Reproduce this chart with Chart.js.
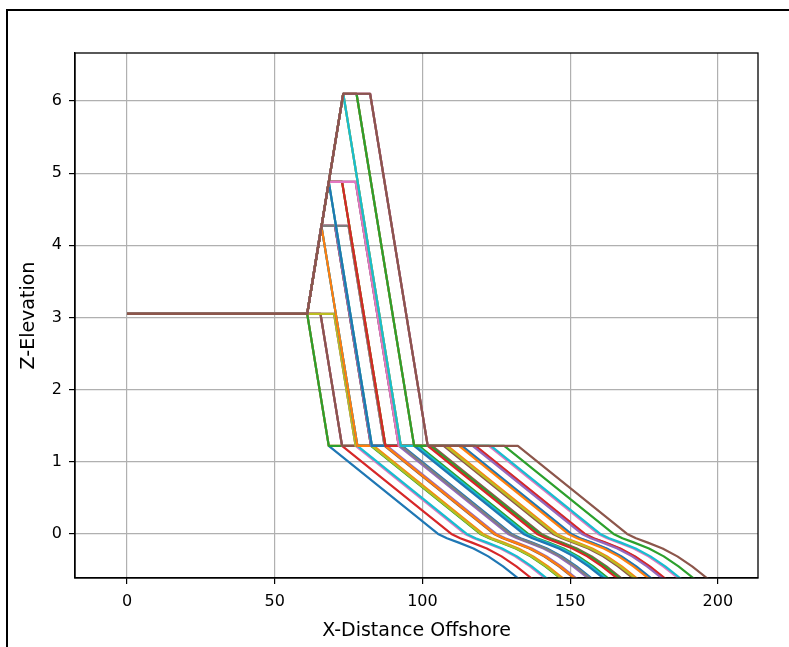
<!DOCTYPE html>
<html>
<head>
<meta charset="utf-8">
<script src="https://cdn.jsdelivr.net/npm/chart.js@4.4.1/dist/chart.umd.min.js"></script>
<style>
  html, body { margin: 0; padding: 0; background: #fff; }
  #wrap { position: relative; width: 789px; height: 647px; }
</style>
</head>
<body>
<div id="wrap"><canvas id="grafico" width="789" height="647"></canvas></div>
<script>
// EJES
const xTicks = [0, 50, 100, 150, 200];
const yTicks = [0, 1, 2, 3, 4, 5, 6];
const tab10 = ['#1f77b4', '#ff7f0e', '#2ca02c', '#d62728', '#9467bd',
               '#8c564b', '#e377c2', '#7f7f7f', '#bcbd22', '#17becf'];

// PERFILES: respaldo, duna, berma, playa
const backshoreX = [0, 61.0];
const backshoreZ = 3.05;
const crestZ = [3.05, 4.27, 4.88, 6.10];          // altura de duna
const crestStartX = [61.0, 65.8, 68.3, 73.2];     // inicio de cresta
const crestEndX = [                               // fin de cresta (3 anchos)
  [61.0, 65.5, 70.1],
  [65.8, 70.4, 75.0],
  [68.3, 72.8, 77.4],
  [73.2, 77.7, 82.3]
];
const toeX = [                                    // pie de duna en la berma
  [68.3, 72.8, 77.4],
  [78.0, 82.6, 87.2],
  [82.9, 87.5, 92.0],
  [92.7, 97.2, 101.8]
];
const bermZ = 1.22;
const bermWidths = [0, 15.2, 30.5];
// forma de la playa desde el borde de la berma
const shoreDx = [0, 37, 40, 44, 49, 54, 59, 64, 80];
const shoreZ = [1.22, 0.0, -0.06, -0.12, -0.2, -0.31, -0.45, -0.61, -1.05];

// ARMAR DATASETS
const perfiles = [];
crestZ.forEach((z, h) => {
  crestEndX[h].forEach((xc, c) => {
    bermWidths.forEach(bw => {
      const bermEnd = toeX[h][c] + bw;
      const pts = [
        { x: backshoreX[0], y: backshoreZ },
        { x: backshoreX[1], y: backshoreZ },
        { x: crestStartX[h], y: z },
        { x: xc, y: z },
        { x: toeX[h][c], y: bermZ },
        { x: bermEnd, y: bermZ }
      ];
      shoreDx.forEach((dx, k) => { if (k > 0) pts.push({ x: bermEnd + dx, y: shoreZ[k] }); });
      perfiles.push(pts);
    });
  });
});

const datasets = perfiles.map((pts, i) => ({
  data: pts,
  borderColor: tab10[i % 10],
  borderWidth: 2.2,
  borderJoinStyle: 'round',
  pointRadius: 0,
  showLine: true,
  fill: false,
  tension: 0,
  order: perfiles.length - i
}));

// MARCOS
const marco = {
  id: 'marco',
  afterDraw(chart) {
    const { ctx, chartArea: a } = chart;
    ctx.save();
    ctx.strokeStyle = '#000';
    ctx.lineWidth = 1.3;
    ctx.strokeRect(a.left, a.top, a.right - a.left, a.bottom - a.top);
    ctx.lineWidth = 2;
    ctx.strokeRect(7, 10, 900, 900);
    ctx.restore();
  }
};

Chart.defaults.font.family = 'DejaVu Sans';
Chart.defaults.color = '#000';

new Chart(document.getElementById('grafico'), {
  type: 'scatter',
  data: { datasets },
  options: {
    responsive: false,
    animation: false,
    devicePixelRatio: 1,
    layout: { padding: { left: 14, top: 53, right: 31, bottom: 0 } },
    plugins: { legend: { display: false }, tooltip: { enabled: false } },
    scales: {
      x: {
        type: 'linear',
        min: -17.6,
        max: 213.6,
        afterBuildTicks: axis => { axis.ticks = xTicks.map(v => ({ value: v })); },
        afterFit: axis => { axis.height = 69; },
        ticks: { padding: 8, font: { size: 16 }, color: '#000' },
        grid: { color: '#b0b0b0', lineWidth: 1.2, tickColor: '#000', tickLength: 6 },
        border: { display: true, color: '#000', width: 1.3 },
        title: { display: true, text: 'X-Distance Offshore', font: { size: 19 }, padding: { top: 0, bottom: 5 } }
      },
      y: {
        type: 'linear',
        min: -0.61,
        max: 6.665,
        afterBuildTicks: axis => { axis.ticks = yTicks.map(v => ({ value: v })); },
        afterFit: axis => { axis.width = 61; },
        ticks: { padding: 7, font: { size: 16 }, color: '#000' },
        grid: { color: '#b0b0b0', lineWidth: 1.2, tickColor: '#000', tickLength: 6 },
        border: { display: true, color: '#000', width: 1.3 },
        title: { display: true, text: 'Z-Elevation', font: { size: 19 }, padding: { top: 4, bottom: 0 } }
      }
    }
  },
  plugins: [marco]
});
</script>
</body>
</html>
